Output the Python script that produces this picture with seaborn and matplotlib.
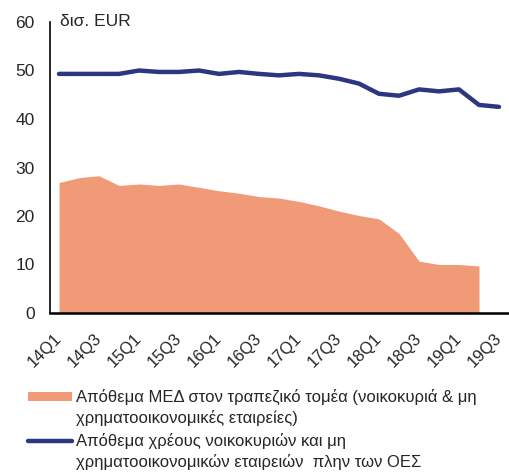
import matplotlib
matplotlib.use("Agg")
import matplotlib.pyplot as plt
import seaborn as sns
import pandas as pd
from matplotlib.patches import Rectangle
from matplotlib.lines import Line2D

# quarters 14Q1 .. 19Q3
quarters = ["14Q1", "14Q2", "14Q3", "14Q4", "15Q1", "15Q2", "15Q3", "15Q4",
            "16Q1", "16Q2", "16Q3", "16Q4", "17Q1", "17Q2", "17Q3", "17Q4",
            "18Q1", "18Q2", "18Q3", "18Q4", "19Q1", "19Q2", "19Q3"]

# NPE stock in banking sector (ends 19Q2)
npe_stock = [26.9, 27.9, 28.3, 26.3, 26.6, 26.3, 26.6, 25.9,
             25.2, 24.7, 24.0, 23.7, 23.0, 22.1, 21.0, 20.1,
             19.4, 16.4, 10.7, 10.0, 10.0, 9.7]

# debt of households and non-financial corporations excl. general gov.
debt_stock = [49.3, 49.3, 49.3, 49.3, 50.0, 49.7, 49.7, 50.0,
              49.3, 49.7, 49.3, 49.0, 49.3, 49.0, 48.3, 47.3,
              45.2, 44.8, 46.1, 45.7, 46.1, 42.9, 42.5]

label_npe = "Απόθεμα ΜΕΔ στον τραπεζικό τομέα (νοικοκυριά & μη\nχρηματοοικονομικές εταιρείες)"
label_debt = "Απόθεμα χρέους νοικοκυριών και μη\nχρηματοοικονομικών εταιρειών  πλην των ΟΕΣ"

area_color = "#F09A77"
line_color = "#2D3680"

sns.set_style("white")
plt.rcParams['font.family'] = ['Liberation Sans', 'DejaVu Sans']

df_line = pd.DataFrame({"x": range(len(quarters)), "y": debt_stock})
df_area = pd.DataFrame({"x": range(len(npe_stock)), "y": npe_stock})

W, H = 509, 472
fig = plt.figure(figsize=(W / 100, H / 100), dpi=100)
ax = fig.add_axes([50 / W, 1 - 313 / H, 458 / W, 291 / H])

ax.fill_between(df_area["x"], 0, df_area["y"], color=area_color, lw=0)
sns.lineplot(data=df_line, x="x", y="y", ax=ax, color=line_color, lw=3.2)

ax.set_xlim(-0.45, 22.45)
ax.set_ylim(0, 60)
ax.set_yticks(range(0, 61, 10))
# small tick marks between quarters, labels every second quarter
ax.set_xticks([i + 0.5 for i in range(len(quarters) - 1)], minor=True)
ax.tick_params(axis="x", which="minor", direction="in", length=4, width=1, color="black")
ax.tick_params(axis="x", which="major", length=0, pad=16.5, labelsize=12)
ax.tick_params(axis="y", length=0, pad=11, labelsize=12.5)
ax.set_xticks(range(0, len(quarters), 2))
ax.set_xticklabels(quarters[::2], rotation=45, ha="right", va="center",
                   rotation_mode="anchor")
ax.set_xlabel("")
ax.set_ylabel("")

for s in ["top", "right"]:
    ax.spines[s].set_visible(False)
ax.spines["left"].set_color("black")
ax.spines["left"].set_linewidth(1.2)
ax.spines["bottom"].set_color("black")
ax.spines["bottom"].set_linewidth(1.8)

ax.text(0.05, 60, "δισ. EUR", fontsize=12.5, va="center", ha="left")

# legend below the plot, handle aligned to first text line
fig.add_artist(Rectangle((28 / W, 1 - 401 / H), 44 / W, 9 / H,
                         transform=fig.transFigure, facecolor=area_color, lw=0))
fig.add_artist(Line2D([28 / W, 72 / W], [1 - 441 / H, 1 - 441 / H],
                      transform=fig.transFigure, color=line_color, lw=3.2))
baselines = [[402, 423], [446, 467]]
for lbl, bl in zip([label_npe, label_debt], baselines):
    for line, y in zip(lbl.split("\n"), bl):
        fig.text(76 / W, 1 - y / H, line, fontsize=12, va="baseline", ha="left")

fig.savefig("out.png", dpi=100)
